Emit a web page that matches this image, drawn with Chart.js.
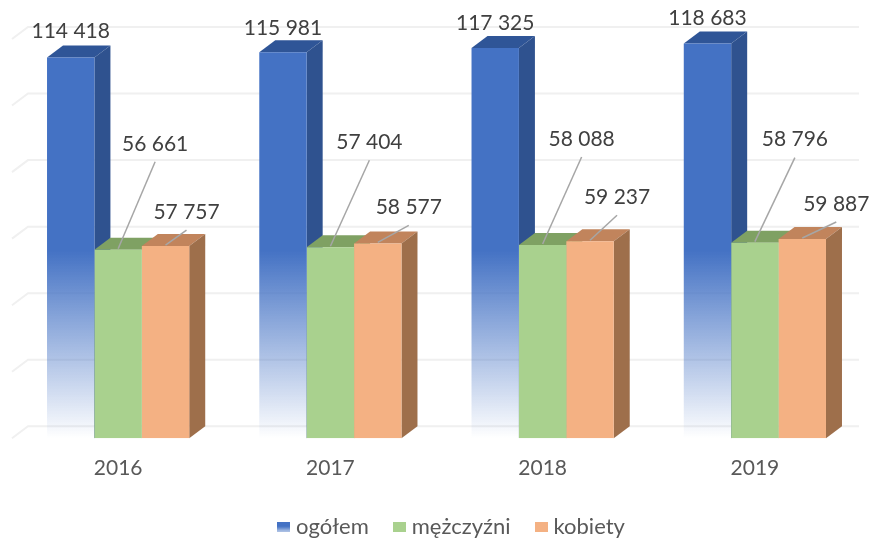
<!DOCTYPE html>
<html>
<head>
<meta charset="utf-8">
<script src="https://cdn.jsdelivr.net/npm/chart.js@4"></script>
<style>
  html, body { margin: 0; background: #fff; }
  canvas { display: block; }
</style>
</head>
<body>
<canvas id="chart" width="871" height="539"></canvas>
<script>
const years = ['2016', '2017', '2018', '2019'];
const ogolem = [114418, 115981, 117325, 118683];
const mezczyzni = [56661, 57404, 58088, 58796];
const kobiety = [57757, 58577, 59237, 59887];

// label offset from the top centre of each bar
const labelShift = [
  [[0, -26], [0, -24], [0, -25], [0, -25]],
  [[37, -106], [39, -105], [39, -106], [40, -103]],
  [[21, -34], [31, -36], [27, -44], [34, -35]]
];
const faces = [
  { side: '#2f528f', top: '#2f5597' },
  { side: '#7e9c69', top: '#7fa163' },
  { side: '#9e6f4b', top: '#c1845c' }
];
const depthX = 16, depthY = 12;
const fontName = 'Lato, "Open Sans", sans-serif';

const fmt = v => String(v).replace(/\B(?=(\d{3})+$)/g, ' ');

function blueFade(ctx, top, bottom) {
  const g = ctx.createLinearGradient(0, bottom, 0, top);
  g.addColorStop(0, 'rgba(68,114,196,0)');
  g.addColorStop(0.47, 'rgba(68,114,196,1)');
  g.addColorStop(1, 'rgba(68,114,196,1)');
  return g;
}

// small swatch for the legend, the blue one fades like its bars
function swatch(i, color) {
  const c = document.createElement('canvas');
  c.width = 13;
  c.height = 10;
  const x = c.getContext('2d');
  if (i === 0) {
    const g = x.createLinearGradient(0, 0, 0, 10);
    g.addColorStop(0, '#4472c4');
    g.addColorStop(0.5, '#4472c4');
    g.addColorStop(1, '#b4c7e7');
    x.fillStyle = g;
  } else {
    x.fillStyle = color;
  }
  x.fillRect(0, 0, 13, 10);
  return c;
}

const box3d = {
  id: 'box3d',
  afterLayout(chart) {
    // legend sits further right than the default centring
    const lg = chart.legend;
    lg.top -= 3;
    lg.bottom -= 3;
    lg.left += 17;
    lg.right += 17;
  },
  beforeDatasetsDraw(chart) {
    const { ctx, chartArea, scales: { y } } = chart;
    // grid on the back wall, with the floor edge going forward on the left
    ctx.save();
    ctx.strokeStyle = '#f0f0f0';
    ctx.lineWidth = 2;
    y.ticks.forEach(t => {
      const py = y.getPixelForValue(t.value);
      ctx.beginPath();
      ctx.moveTo(chartArea.left, py);
      ctx.lineTo(chartArea.left + depthX, py - depthY);
      ctx.lineTo(chartArea.right - 2, py - depthY);
      ctx.stroke();
    });
    // tops and sides, back to front
    chart.data.datasets.forEach((ds, di) => {
      chart.getDatasetMeta(di).data.forEach(bar => {
        const half = bar.width / 2;
        const l = bar.x - half, r = bar.x + half;
        ctx.fillStyle = faces[di].top;
        ctx.beginPath();
        ctx.moveTo(l, bar.y);
        ctx.lineTo(l + depthX, bar.y - depthY);
        ctx.lineTo(r + depthX, bar.y - depthY);
        ctx.lineTo(r, bar.y);
        ctx.fill();
        ctx.fillStyle = faces[di].side;
        ctx.beginPath();
        ctx.moveTo(r, bar.y);
        ctx.lineTo(r + depthX, bar.y - depthY);
        ctx.lineTo(r + depthX, bar.base - depthY);
        ctx.lineTo(r, bar.base);
        ctx.fill();
      });
    });
    ctx.restore();
  },
  afterDatasetsDraw(chart) {
    const { ctx } = chart;
    ctx.save();
    ctx.font = '21px ' + fontName;
    ctx.textAlign = 'center';
    ctx.textBaseline = 'middle';
    chart.data.datasets.forEach((ds, di) => {
      chart.getDatasetMeta(di).data.forEach((bar, i) => {
        const [dx, dy] = labelShift[di][i];
        if (di > 0) {
          ctx.strokeStyle = '#a6a6a6';
          ctx.lineWidth = 1.5;
          ctx.beginPath();
          ctx.moveTo(bar.x, bar.y - 1);
          ctx.lineTo(bar.x + dx, bar.y + dy + 18);
          ctx.stroke();
        }
        ctx.fillStyle = '#404040';
        ctx.fillText(fmt(ds.data[i]), bar.x + dx, bar.y + dy);
      });
    });
    ctx.restore();
  }
};

new Chart(document.getElementById('chart'), {
  type: 'bar',
  plugins: [box3d],
  data: {
    labels: years,
    datasets: [
      {
        label: 'ogółem',
        data: ogolem,
        backgroundColor: c => {
          const area = c.chart.chartArea;
          return area ? blueFade(c.chart.ctx, area.top, area.bottom) : '#4472c4';
        }
      },
      { label: 'mężczyźni', data: mezczyzni, backgroundColor: '#a9d18e' },
      { label: 'kobiety', data: kobiety, backgroundColor: '#f4b183' }
    ]
  },
  options: {
    responsive: false,
    animation: false,
    layout: { padding: { left: 12, right: 10, top: 39, bottom: -11.5 } },
    datasets: { bar: { categoryPercentage: 0.67, barPercentage: 1 } },
    scales: {
      x: {
        grid: { display: false },
        border: { display: false },
        ticks: { color: '#595959', font: { family: fontName, size: 21 }, padding: 9 }
      },
      y: {
        display: false,
        min: 0,
        max: 120000,
        ticks: { stepSize: 20000 }
      }
    },
    plugins: {
      tooltip: { enabled: false },
      legend: {
        position: 'bottom',
        onClick: null,
        labels: {
          color: '#595959',
          font: { family: fontName, size: 22 },
          usePointStyle: true,
          pointStyleWidth: 3,
          padding: 29,
          generateLabels: chart => chart.data.datasets.map((ds, i) => ({
            text: ds.label,
            datasetIndex: i,
            lineWidth: 0,
            strokeStyle: 'transparent',
            fontColor: '#595959',
            fillStyle: '#4472c4',
            pointStyle: swatch(i, ds.backgroundColor)
          }))
        }
      }
    }
  }
});
</script>
</body>
</html>
